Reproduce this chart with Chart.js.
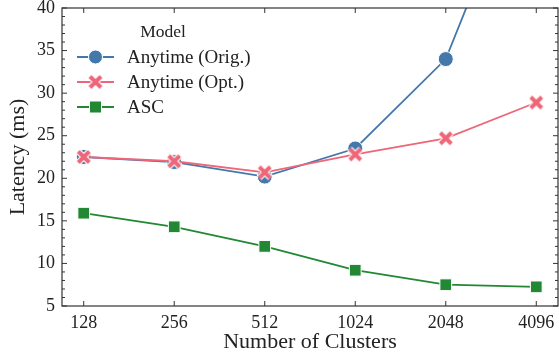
<!DOCTYPE html>
<html>
<head>
<meta charset="utf-8">
<script src="https://cdn.jsdelivr.net/npm/chart.js@4"></script>
<style>
  html, body { margin: 0; padding: 0; background: #fff; }
  #wrap { width: 559px; height: 358px; }
</style>
</head>
<body>
<div id="wrap"><canvas id="myChart"></canvas></div>
<script>
const categories = ["128", "256", "512", "1024", "2048", "4096"];
const origValues = [22.5, 21.9, 20.2, 23.5, 34.0, 60.5];
const optValues = [22.5, 22.0, 20.7, 22.8, 24.7, 28.9];
const ascValues = [15.9, 14.3, 12.0, 9.2, 7.5, 7.25];
const yTicks = [5, 10, 15, 20, 25, 30, 35, 40];

const FONT = "'Liberation Serif', 'DejaVu Serif', serif";
const BLUE = "#4477AA", PINK = "#EE6677", GREEN = "#228833";
const AXIS = "#333333";

function xMarker(color) {
	const c = document.createElement("canvas");
	c.width = 20; c.height = 20;
	const g = c.getContext("2d");
	const a = 4.5, b = 15.5;
	[["#ffffff", 6.2], [color, 4]].forEach(([col, w]) => {
		g.strokeStyle = col;
		g.lineWidth = w;
		g.beginPath();
		g.moveTo(a, a); g.lineTo(b, b);
		g.moveTo(b, a); g.lineTo(a, b);
		g.stroke();
	});
	return c;
}
const crossImg = xMarker(PINK);

function points(values) {
	return values.map((v, i) => ({ x: i, y: v }));
}

const series = [
	{ label: "Anytime (Orig.)", data: points(origValues), color: BLUE, style: "circle", radius: 7.5, order: 1 },
	{ label: "Anytime (Opt.)", data: points(optValues), color: PINK, style: crossImg, radius: 8, order: 0 },
	{ label: "ASC", data: points(ascValues), color: GREEN, style: "rect", radius: 8.3, order: 2 },
];

// inward ticks on all four sides, spines, and the in-plot legend
const framePlugin = {
	id: "frame",
	afterDatasetsDraw(chart) {
		const ctx = chart.ctx;
		const a = chart.chartArea;
		const xs = chart.scales.x, ys = chart.scales.y;
		ctx.save();
		ctx.strokeStyle = AXIS;
		ctx.lineWidth = 1.2;
		ctx.strokeRect(a.left, a.top, a.right - a.left, a.bottom - a.top);
		ctx.beginPath();
		categories.forEach((c, i) => {
			const px = xs.getPixelForValue(i);
			ctx.moveTo(px, a.bottom); ctx.lineTo(px, a.bottom - 5);
			ctx.moveTo(px, a.top); ctx.lineTo(px, a.top + 5);
		});
		for (let v = 5; v <= 40; v++) {
			const py = ys.getPixelForValue(v);
			const len = v % 5 === 0 ? 5 : 3;
			ctx.moveTo(a.left, py); ctx.lineTo(a.left + len, py);
			ctx.moveTo(a.right, py); ctx.lineTo(a.right - len, py);
		}
		ctx.lineWidth = 1;
		ctx.stroke();

		// legend
		const lx = a.left + 15, lw = 37, tx = a.left + 65;
		ctx.fillStyle = "#222";
		ctx.font = "17.5px " + FONT;
		ctx.textAlign = "center";
		ctx.textBaseline = "middle";
		ctx.fillText("Model", a.left + 101, 32);
		ctx.font = "19px " + FONT;
		ctx.textAlign = "left";
		series.forEach((s, i) => {
			const y = 57 + i * 25;
			ctx.strokeStyle = s.color;
			ctx.lineWidth = 1.8;
			ctx.beginPath();
			ctx.moveTo(lx, y); ctx.lineTo(lx + lw, y);
			ctx.stroke();
			const mx = lx + lw / 2;
			if (s.style === "circle") {
				ctx.fillStyle = s.color;
				ctx.strokeStyle = "#fff";
				ctx.lineWidth = 1;
				ctx.beginPath(); ctx.arc(mx, y, 7, 0, Math.PI * 2); ctx.fill(); ctx.stroke();
			} else if (s.style === "rect") {
				ctx.fillStyle = s.color;
				ctx.strokeStyle = "#fff";
				ctx.lineWidth = 1;
				ctx.fillRect(mx - 6, y - 6, 12, 12); ctx.strokeRect(mx - 6, y - 6, 12, 12);
			} else {
				ctx.drawImage(s.style, mx - 10, y - 10);
			}
			ctx.fillStyle = "#222";
			ctx.fillText(s.label, tx, y + 1);
		});
		ctx.restore();
	},
};

new Chart(document.getElementById("myChart"), {
	type: "line",
	data: {
		datasets: series.map((s) => ({
			label: s.label,
			data: s.data,
			borderColor: s.color,
			backgroundColor: s.color,
			pointBackgroundColor: s.color,
			pointBorderColor: "#ffffff",
			pointBorderWidth: 1,
			pointStyle: s.style,
			pointRadius: s.radius,
			borderWidth: 1.8,
			order: s.order,
		})),
	},
	options: {
		responsive: true,
		maintainAspectRatio: false,
		animation: false,
		events: [],
		layout: { autoPadding: false, padding: { top: 8, right: 1, left: 5, bottom: 0 } },
		plugins: { legend: { display: false }, tooltip: { enabled: false } },
		scales: {
			x: {
				type: "linear",
				min: -0.24,
				max: 5.24,
				afterBuildTicks(scale) {
					scale.ticks = categories.map((c, i) => ({ value: i }));
				},
				afterFit(scale) {
					scale.height = 52;
					scale.paddingLeft = 0;
					scale.paddingRight = 0;
				},
				grid: { display: false, drawTicks: false },
				border: { display: false },
				ticks: {
					color: "#222",
					font: { family: FONT, size: 18 },
					padding: 6,
					maxRotation: 0,
					callback: (v) => categories[v],
				},
				title: {
					display: true,
					text: "Number of Clusters",
					color: "#222",
					font: { family: FONT, size: 22 },
					padding: { top: 0, bottom: 3 },
				},
			},
			y: {
				min: 5,
				max: 40,
				afterBuildTicks(scale) {
					scale.ticks = yTicks.map((v) => ({ value: v }));
				},
				afterFit(scale) {
					scale.width = 57;
					scale.paddingTop = 0;
					scale.paddingBottom = 0;
				},
				grid: { display: false, drawTicks: false },
				border: { display: false },
				ticks: {
					color: "#222",
					font: { family: FONT, size: 18 },
					padding: 7,
				},
				title: {
					display: true,
					text: "Latency (ms)",
					color: "#222",
					font: { family: FONT, size: 22 },
					padding: { top: 0, bottom: 0 },
				},
			},
		},
	},
	plugins: [framePlugin],
});
</script>
</body>
</html>
